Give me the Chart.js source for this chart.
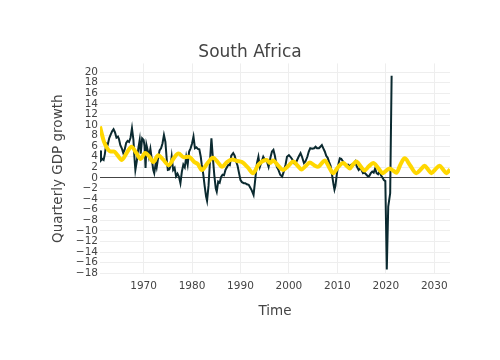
<!DOCTYPE html>
<html>
<head>
<meta charset="utf-8">
<title>South Africa</title>
<script src="https://cdn.jsdelivr.net/npm/chart.js@4.4.1/dist/chart.umd.min.js"></script>
<style>
  body { margin: 0; background: #fff; }
  #chart { display: block; }
</style>
</head>
<body>
<canvas id="chart" width="500" height="360"></canvas>
<script>
// Quarterly GDP growth (observed)
const gdpYears = [
  1961.0, 1961.2, 1961.5, 1961.75, 1962.0, 1962.3, 1962.6, 1962.9, 1963.2, 1963.5,
  1963.8, 1964.1, 1964.4, 1964.7, 1964.9, 1965.2, 1965.5, 1965.8, 1966.1, 1966.4,
  1966.7, 1967.0, 1967.3, 1967.6, 1967.9, 1968.1, 1968.3, 1968.6, 1968.9, 1969.2,
  1969.4, 1969.7, 1970.0, 1970.2, 1970.4, 1970.6, 1970.9, 1971.1, 1971.4, 1971.7,
  1972.0, 1972.2, 1972.5, 1972.7, 1973.0, 1973.3, 1973.6, 1973.9, 1974.2, 1974.5,
  1974.8, 1975.0, 1975.3, 1975.6, 1975.8, 1976.1, 1976.4, 1976.7, 1977.0, 1977.3,
  1977.6, 1977.9, 1978.2, 1978.5, 1978.8, 1979.1, 1979.4, 1979.7, 1980.0, 1980.3,
  1980.6, 1980.9, 1981.2, 1981.5, 1981.8, 1982.0, 1982.3, 1982.6, 1982.9, 1983.1,
  1983.4, 1983.7, 1984.0, 1984.3, 1984.6, 1984.9, 1985.1, 1985.4, 1985.7, 1986.0,
  1986.3, 1986.6, 1986.9, 1987.2, 1987.5, 1987.8, 1988.1, 1988.5, 1988.8, 1989.1,
  1989.4, 1989.7, 1990.0, 1990.3, 1990.7, 1991.0, 1991.3, 1991.7, 1992.0, 1992.3,
  1992.7, 1993.0, 1993.4, 1993.7, 1994.0, 1994.4, 1994.7, 1995.0, 1995.4, 1995.8,
  1996.2, 1996.5, 1996.8, 1997.1, 1997.5, 1997.8, 1998.2, 1998.6, 1998.9, 1999.3,
  1999.6, 2000.0, 2000.3, 2000.7, 2001.0, 2001.3, 2001.6, 2002.0, 2002.4, 2002.7,
  2003.1, 2003.4, 2003.8, 2004.1, 2004.4, 2004.8, 2005.2, 2005.5, 2005.8, 2006.2,
  2006.5, 2006.8, 2007.1, 2007.4, 2007.7, 2008.0, 2008.3, 2008.6, 2008.9, 2009.2,
  2009.4, 2009.6, 2009.9, 2010.2, 2010.5, 2010.8, 2011.1, 2011.5, 2011.8, 2012.2,
  2012.5, 2012.9, 2013.3, 2013.7, 2014.0, 2014.4, 2014.7, 2015.0, 2015.3, 2015.6,
  2016.0, 2016.3, 2016.6, 2016.9, 2017.2, 2017.5, 2017.8, 2018.1, 2018.4, 2018.7,
  2019.0, 2019.3, 2019.6, 2019.9, 2020.2, 2020.5, 2020.9, 2021.2
];
const gdpValues = [
  5.2, 3.3, 3.6, 3.4, 4.5, 6.5, 6.3, 7.5, 8.2, 8.8,
  9.2, 8.6, 7.6, 7.8, 7.4, 6.2, 5.6, 4.7, 5.4, 6.6,
  7.0, 6.8, 7.6, 9.4, 7.2, 4.0, 1.5, 3.2, 5.5, 7.2,
  4.6, 7.5, 7.2, 6.0, 1.9, 6.2, 5.0, 4.0, 5.5, 3.5,
  1.5, 0.9, 2.8, 2.0, 3.8, 5.2, 5.6, 6.5, 8.1, 6.8,
  3.2, 1.5, 1.6, 2.4, 4.0, 1.5, 1.9, 0.3, 0.8, 0.2,
  -1.0, 1.2, 2.5, 2.0, 4.0, 2.5, 5.0, 5.6, 6.5, 7.8,
  5.6, 5.8, 5.5, 5.4, 4.0, 2.5, 0.8, -1.5, -3.5, -4.3,
  -1.5, 3.1, 7.5, 3.8, 0.5, -2.0, -2.6, -0.7, -0.9, 0.2,
  0.6, 0.5, 1.5, 2.0, 2.5, 2.4, 4.2, 4.7, 4.2, 3.1,
  2.3, 0.9, -0.4, -0.8, -1.0, -1.0, -1.2, -1.3, -1.8, -2.3,
  -3.2, -0.7, 2.8, 4.0, 2.1, 3.2, 4.0, 3.5, 3.3, 2.1,
  3.9, 5.0, 5.3, 4.2, 2.1, 1.6, 0.6, 0.25, 1.1, 2.5,
  4.0, 4.3, 4.0, 3.5, 2.8, 2.6, 3.2, 4.0, 4.7, 4.0,
  2.8, 3.1, 4.0, 5.0, 5.6, 5.5, 5.6, 5.9, 5.6, 5.6,
  5.9, 6.2, 5.6, 5.0, 4.2, 3.8, 3.0, 2.3, 0.6, -1.2,
  -2.2, -1.5, 0.8, 2.5, 3.7, 3.6, 3.2, 2.6, 2.4, 2.5,
  2.2, 2.5, 2.4, 3.1, 2.2, 1.5, 1.8, 1.5, 0.9, 1.0,
  0.6, 0.3, 0.4, 0.9, 1.2, 1.0, 1.8, 0.9, 0.7, 1.2,
  0.5, 0.1, -0.4, -0.6, -17.3, -5.4, -2.9, 19.3
];

// Fitted / forecast growth (yellow)
const fitYears = [
  1961.0, 1961.8, 1962.5, 1963.2, 1963.9, 1964.6, 1965.5, 1966.5, 1967.5, 1968.5,
  1969.4, 1970.3, 1971.2, 1972.0, 1973.0, 1974.0, 1975.2, 1976.2, 1977.2, 1978.3,
  1979.3, 1980.5, 1981.2, 1982.0, 1983.2, 1984.3, 1985.3, 1986.2, 1987.2, 1988.3,
  1989.3, 1990.3, 1991.5, 1992.6, 1993.7, 1995.4, 1996.1, 1996.7, 1997.8, 1998.8,
  1999.9, 2000.9, 2001.8, 2002.6, 2003.5, 2004.3, 2005.2, 2006.0, 2006.7, 2007.4,
  2008.3, 2009.1, 2010.1, 2011.2, 2012.0, 2012.6, 2013.2, 2013.9, 2014.8, 2015.6,
  2016.5, 2017.4, 2018.4, 2019.4, 2020.1, 2020.8, 2021.5, 2022.2, 2023.0, 2023.9,
  2025.0, 2026.3, 2027.2, 2028.0, 2028.7, 2029.4, 2030.2, 2031.1, 2031.8, 2032.5,
  2033.25
];
const fitValues = [
  9.7, 6.9, 5.6, 5.0, 5.0, 4.3, 3.4, 4.7, 5.9, 4.7,
  3.6, 4.7, 4.0, 3.0, 4.3, 3.5, 2.4, 3.7, 4.6, 3.9,
  4.0, 3.0, 2.6, 1.5, 2.8, 3.8, 3.0, 2.1, 3.0, 3.5,
  3.2, 3.0, 2.0, 0.9, 2.5, 3.4, 2.8, 3.3, 2.3, 1.5,
  2.3, 3.1, 2.3, 1.6, 2.3, 2.9, 2.4, 2.1, 2.7, 3.3,
  2.0, 0.9, 2.0, 2.8, 2.2, 1.8, 2.5, 3.1, 2.2, 1.4,
  2.2, 2.8, 1.9, 0.9, 1.4, 1.8, 1.4, 1.0, 2.5, 3.7,
  2.4, 0.9, 1.6, 2.3, 1.6, 0.9, 1.6, 2.3, 1.6, 0.9,
  1.6
];

const xTicks = [1970, 1980, 1990, 2000, 2010, 2020, 2030];
const yTicks = [-18, -16, -14, -12, -10, -8, -6, -4, -2, 0, 2, 4, 6, 8, 10, 12, 14, 16, 18, 20];

const fontFamily = '"DejaVu Sans", Verdana, sans-serif';

function toPoints(xs, ys) {
  return xs.map((x, i) => ({ x: x, y: ys[i] }));
}

function configurarGrafico() {
  new Chart(document.getElementById("chart").getContext("2d"), {
    type: "line",
    data: {
      datasets: [
        {
          label: "Fit",
          data: toPoints(fitYears, fitValues),
          borderColor: "#FFD700",
          borderWidth: 4,
          pointRadius: 0,
          cubicInterpolationMode: "monotone",
          order: 1,
        },
        {
          label: "GDP growth",
          data: toPoints(gdpYears, gdpValues),
          borderColor: "#0b2a30",
          borderWidth: 2,
          pointRadius: 0,
          tension: 0,
          order: 2,
        },
      ],
    },
    options: {
      responsive: false,
      animation: false,
      layout: { padding: { left: 50, right: 50, top: 0, bottom: 40 } },
      plugins: {
        legend: { display: false },
        tooltip: { enabled: false },
        title: {
          display: true,
          text: "South Africa",
          color: "#444",
          font: { family: fontFamily, size: 17, weight: "normal" },
          padding: { top: 42, bottom: 1 },
        },
      },
      scales: {
        x: {
          type: "linear",
          min: 1961.0,
          max: 2033.25,
          afterBuildTicks: (axis) => {
            axis.ticks = xTicks.map((v) => ({ value: v }));
          },
          afterFit: (axis) => {
            axis.height = 46;
          },
          ticks: {
            color: "#444",
            padding: 6,
            maxRotation: 0,
            autoSkip: false,
            font: { family: fontFamily, size: 10.5 },
            callback: (v) => String(v),
          },
          grid: { color: "#eee", drawTicks: false },
          border: { display: false },
          title: {
            display: true,
            text: "Time",
            color: "#444",
            font: { family: fontFamily, size: 13.5 },
            padding: { top: 9, bottom: 0 },
          },
        },
        y: {
          min: -18.15,
          max: 21.64,
          afterBuildTicks: (axis) => {
            axis.ticks = yTicks.map((v) => ({ value: v }));
          },
          afterFit: (axis) => {
            axis.width = 50;
          },
          ticks: {
            color: "#444",
            padding: 2,
            autoSkip: false,
            font: { family: fontFamily, size: 10.5 },
            callback: (v) => (v < 0 ? "\u2212" + Math.abs(v) : String(v)),
          },
          grid: {
            drawTicks: false,
            color: (ctx) => (ctx.tick && ctx.tick.value === 0 ? "#444" : "#eee"),
          },
          border: { display: false },
          title: {
            display: true,
            text: "Quarterly GDP growth",
            color: "#444",
            font: { family: fontFamily, size: 13.5 },
            padding: { top: 0, bottom: 0 },
          },
        },
      },
    },
  });
}

document.addEventListener("DOMContentLoaded", function () {
  configurarGrafico();
});
</script>
</body>
</html>
